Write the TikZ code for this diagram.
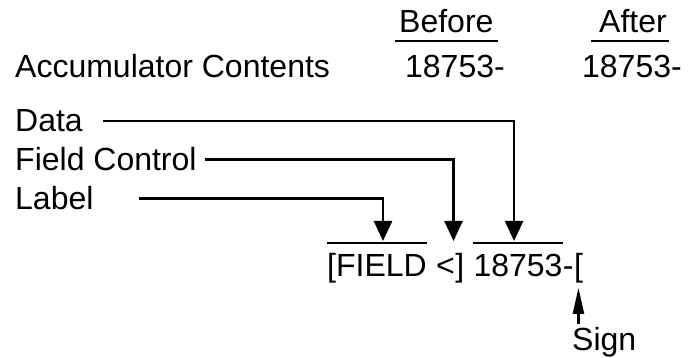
\documentclass[tikz,border=0pt]{standalone}
\usepackage{fontspec}
\setmainfont{Liberation Sans}
\usetikzlibrary{positioning, arrows.meta}

\begin{document}
\begin{tikzpicture}[
        x=1pt, y=-1pt,
        txt/.style={inner sep=0pt, anchor=base west, font=\fontsize{32}{36}\selectfont},
        conn/.style={line width=2.6pt, -{Triangle[width=18pt,length=20pt]}},
        signarr/.style={line width=2.2pt, -{Triangle[width=11pt,length=26pt]}},
        bar/.style={line width=2.8pt}
    ]
        \useasboundingbox (0,0) rectangle (694,358);

        % Column heads
        \node[txt] (BEFORE) at (399,33) {Before};
        \node[txt] (AFTER) at (599,33) {After};
        \draw[bar] ([xshift=-4pt,yshift=-8pt]BEFORE.base west) -- ([xshift=4pt,yshift=-8pt]BEFORE.base east);
        \draw[bar] ([xshift=-8pt,yshift=-8pt]AFTER.base west) -- ([xshift=2pt,yshift=-8pt]AFTER.base east);

        % Accumulator row
        \node[txt] (ACC) at (15,78) {Accumulator Contents};
        \node[txt, anchor=base east] (ACC_B) at (505,78) {18753-};
        \node[txt, anchor=base east] (ACC_A) at (682,78) {18753-};

        % Field names
        \node[txt] (DATA) at (15,132) {Data};
        \node[txt] (FCTL) at (15,171) {Field Control};
        \node[txt] (LABEL) at (15,210) {Label};

        % Display line
        \node[txt] (FLD) at (327,277) {[FIELD};
        \node[txt, base right=9pt of FLD] (LT) {<};
        \node[txt, base right=0pt of LT] (RB) {]};
        \node[txt, base right=9pt of RB] (NUM) {18753};
        \node[txt, base right=0pt of NUM] (MINUS) {-};
        \node[txt, base right=0pt of MINUS] (SGN) {[};
        \node[txt] (SIGN) at (572,350) {Sign};

        % Bars over the fields
        \draw[bar] ([yshift=34pt]FLD.base west) -- ([yshift=34pt]FLD.base east);
        \draw[bar] ([yshift=34pt]NUM.base west) -- ([yshift=34pt]NUM.base east);

        % Pointers
        \draw[conn] ([xshift=20pt]DATA.east) -| ([xshift=-4pt,yshift=36pt]NUM.base);
        \draw[conn] ([xshift=8pt]FCTL.east) -| ([xshift=8pt,yshift=36pt]LT.base);
        \draw[conn] ([xshift=45pt]LABEL.east) -| ([xshift=6pt,yshift=36pt]FLD.base);
        \draw[signarr] ([yshift=3pt]SIGN.north -| SGN.south) -- ([yshift=-4pt]SGN.south);
    \end{tikzpicture}
\end{document}
